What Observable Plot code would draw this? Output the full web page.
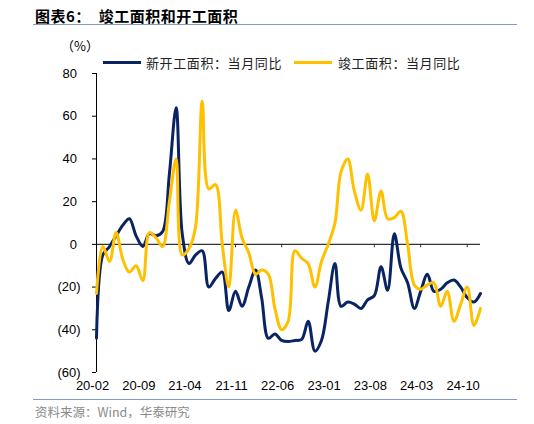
<!DOCTYPE html>
<html>
<head>
<meta charset="utf-8">
<script src="https://cdn.jsdelivr.net/npm/d3@7"></script>
<script src="https://cdn.jsdelivr.net/npm/@observablehq/plot@0.6"></script>
<style>
  html, body { margin: 0; padding: 0; background: #fff; }
  #wrap { position: relative; width: 534px; height: 424px; overflow: hidden; font-family: Arial, "Liberation Sans", sans-serif; }
  .abs { position: absolute; white-space: nowrap; }
  #title { left: 35px; top: 5px; font-size: 15px; font-weight: bold; font-family: "Noto Sans CJK SC", sans-serif; color: #000; letter-spacing: 0.5px; }
  .rule { position: absolute; left: 33px; width: 484px; height: 0; border-top: 1.2px solid #7f9cc4; }
  #unit { left: 61px; top: 36px; font-size: 13px; font-family: "Noto Sans CJK SC", sans-serif; }
  .leg { top: 53px; font-size: 13px; font-family: "Noto Sans CJK SC", sans-serif; color: #222; letter-spacing: 0.6px; }
  .legline { position: absolute; top: 61px; width: 38px; height: 3px; }
  #source { left: 35px; top: 402px; font-size: 12.5px; font-family: "Noto Sans CJK SC", sans-serif; color: #8a8a8a; }
  svg { position: absolute; left: 0; top: 0; }
</style>
</head>
<body>
<div id="wrap">
  <div id="title" class="abs">图表6：&nbsp;&nbsp;竣工面积和开工面积</div>
  <div class="rule" style="top:24px"></div>
  <div id="unit" class="abs">（%）</div>
  <div class="legline" style="left:103px;background:#0a2463"></div>
  <div class="abs leg" style="left:146px">新开工面积：当月同比</div>
  <div class="legline" style="left:294px;background:#ffc000"></div>
  <div class="abs leg" style="left:338px">竣工面积：当月同比</div>
  <div class="rule" style="top:399px"></div>
  <div id="source" class="abs">资料来源：Wind，华泰研究</div>
  <div id="chart"></div>
</div>
<script>
const startMonth = "2020-02";
const seriesNames = ["新开工面积：当月同比", "竣工面积：当月同比"];
const newStarts = [
  -44, -5, -1, 4, 9, 12, 4, -1, 5, 4,
  6, 33, 64, 5, -9, -5, -3, -20, -16, -13,
  -31, -22, -29, -20, -12, -25, -44, -42, -45, -45.5,
  -45, -44.5, -36, -50, -45, -27, -9, -29, -27, -28,
  -30, -26, -24, -10.5, -21.5, 5, -11, -18, -30, -22,
  -14, -22, -21, -18, -16.7, -20, -25, -27, -23
];
const completions = [
  -23, -1, -8, 5.5, -7, -13, -10, -17, 5.5, 3,
  -1, 20, 40, -5, -2, 8, 67, 26, 28, 0,
  -20, 16, 3, -4, -14, -12, -14, -30, -40, -36,
  -3, -6.5, -9, -20, -8, 0, 10, 34, 40, 25,
  16, 33, 11, 25, 12, 12.5, 15.5, 0, -19, -21,
  -19, -18, -29, -22, -36, -28, -20, -38, -30
];
const tickLabels = ["20-02", "20-09", "21-04", "21-11", "22-06", "23-01", "23-08", "24-03", "24-10"];
const yTicks = [-60, -40, -20, 0, 20, 40, 60, 80];

const colors = ["#0a2463", "#ffc000"];
const parseM = d3.utcParse("%Y-%m");
const t0 = parseM(startMonth);
const rows = [];
[newStarts, completions].forEach((arr, s) => {
  arr.forEach((v, i) => rows.push({date: d3.utcMonth.offset(t0, i), value: v, series: seriesNames[s]}));
});
const lastDate = d3.utcMonth.offset(t0, newStarts.length - 1);
const tickDates = tickLabels.map(s => d3.utcParse("%y-%m")(s));
const fmtY = d => d < 0 ? `(${-d})` : `${d}\u00A0`;

const chart = Plot.plot({
  width: 534,
  height: 424,
  marginLeft: 96,
  marginRight: 54,
  marginTop: 73,
  marginBottom: 52,
  style: {fontFamily: "Arial, 'Liberation Sans', sans-serif", fontSize: "13px", background: "transparent", color: "#000"},
  x: {type: "utc", domain: [t0, lastDate], axis: null, label: null},
  y: {domain: [-60, 80], axis: null, label: null},
  color: {domain: seriesNames, range: colors},
  marks: [
    Plot.ruleY([0], {stroke: "#333", strokeWidth: 1.2}),
    Plot.ruleX(tickDates.slice(1), {y1: 0, y2: -1.6, stroke: "#333", strokeWidth: 1}),
    Plot.ruleX([t0], {y1: -60, y2: 80, stroke: "#000", strokeWidth: 1}),
    Plot.axisY({ticks: yTicks, tickSize: 4, tickPadding: 12, tickFormat: fmtY, stroke: "#000", fontSize: 13, label: null}),
    Plot.axisX({ticks: tickDates, tickSize: 0, tickPadding: 8, tickFormat: d3.utcFormat("%y-%m"), fontSize: 13, dx: -4, label: null}),
    Plot.line(rows.filter(r => r.series === seriesNames[0]), {x: "date", y: "value", stroke: colors[0], strokeWidth: 3, curve: "catmull-rom"}),
    Plot.line(rows.filter(r => r.series === seriesNames[1]), {x: "date", y: "value", stroke: colors[1], strokeWidth: 3, curve: "catmull-rom"})
  ]
});
document.getElementById("chart").appendChild(chart);
</script>
</body>
</html>
